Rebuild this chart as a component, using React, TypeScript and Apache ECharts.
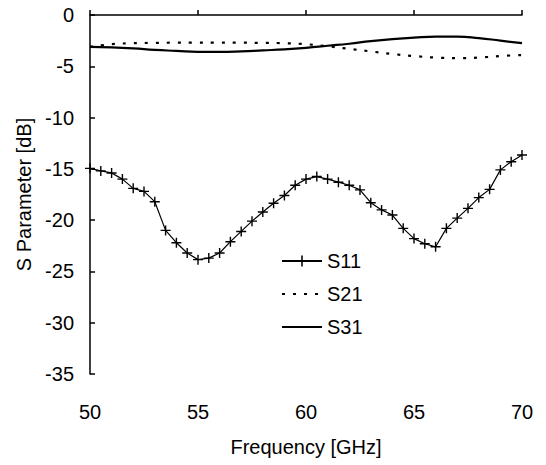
import React, { useEffect, useRef } from "react";
import * as echarts from "echarts";

const freqS11 = [
  50, 50.5, 51, 51.5, 52, 52.5, 53, 53.5, 54, 54.5, 55, 55.5, 56, 56.5, 57, 57.5,
  58, 58.5, 59, 59.5, 60, 60.5, 61, 61.5, 62, 62.5, 63, 63.5, 64, 64.5, 65, 65.5,
  66, 66.5, 67, 67.5, 68, 68.5, 69, 69.5, 70,
];
const s11 = [
  -14.95, -15.2, -15.4, -16.0, -16.9, -17.2, -18.2, -21.0, -22.2, -23.2, -23.85,
  -23.7, -23.2, -22.1, -21.1, -20.1, -19.2, -18.35, -17.6, -16.6, -16.0, -15.75,
  -16.0, -16.3, -16.6, -17.05, -18.3, -19.0, -19.5, -20.8, -21.8, -22.3, -22.6,
  -20.8, -19.8, -18.85, -17.8, -17.0, -15.1, -14.3, -13.65,
];
const freqS = [50, 51, 52, 53, 54, 55, 56, 57, 58, 59, 60, 61, 62, 63, 64, 65, 66, 67, 68, 69, 70];
const s21 = [
  -3.1, -2.85, -2.75, -2.72, -2.7, -2.7, -2.7, -2.7, -2.72, -2.75, -2.85, -3.05,
  -3.3, -3.55, -3.8, -4.0, -4.15, -4.2, -4.15, -4.0, -3.9,
];
const s31 = [
  -3.1, -3.15, -3.25, -3.4, -3.5, -3.6, -3.6, -3.55, -3.45, -3.35, -3.2, -3.0,
  -2.8, -2.55, -2.35, -2.2, -2.1, -2.1, -2.25, -2.5, -2.75,
];
const xTicks = { min: 50, max: 70, interval: 5 };
const yTicks = { min: -35, max: 0, interval: 5 };

const plusPath =
  "path://M0.43,0 L0.57,0 L0.57,0.43 L1,0.43 L1,0.57 L0.57,0.57 L0.57,1 L0.43,1 L0.43,0.57 L0,0.57 L0,0.43 L0.43,0.43 Z";

export default function App() {
  const ref = useRef<HTMLDivElement>(null);
  useEffect(() => {
    if (!ref.current) return;
    const chart = echarts.init(ref.current, null, { renderer: "svg" });
    const font = "Liberation Sans, Arial, sans-serif";
    chart.setOption({
      animation: false,
      backgroundColor: "#fff",
      textStyle: { fontFamily: font, color: "#000" },
      grid: { left: 90, right: 24, top: 15, bottom: 91 },
      legend: {
        orient: "vertical",
        left: 276,
        top: 246,
        itemWidth: 40,
        itemHeight: 14,
        itemGap: 13,
        textStyle: { fontSize: 20, fontFamily: font, color: "#000", lineHeight: 20 },
        data: [
          { name: "S11" },
          { name: "S21", itemStyle: { opacity: 0 } },
          { name: "S31", itemStyle: { opacity: 0 } },
        ],
      },
      xAxis: {
        type: "value",
        min: xTicks.min,
        max: xTicks.max,
        interval: xTicks.interval,
        name: "Frequency [GHz]",
        nameLocation: "middle",
        nameGap: 63,
        nameTextStyle: { fontSize: 20, fontFamily: font, color: "#000" },
        axisLine: { lineStyle: { color: "#000", width: 1.5 } },
        axisTick: { inside: true, length: 5, lineStyle: { color: "#000", width: 1.5 } },
        axisLabel: { fontSize: 20, color: "#000", margin: 28, fontFamily: font },
        splitLine: { show: false },
      },
      yAxis: {
        type: "value",
        min: yTicks.min,
        max: yTicks.max,
        interval: yTicks.interval,
        name: "S Parameter [dB]",
        nameLocation: "middle",
        nameGap: 52,
        nameTextStyle: { fontSize: 20, fontFamily: font, color: "#000" },
        axisLine: { show: true, lineStyle: { color: "#000", width: 1.5 } },
        axisTick: { show: true, inside: true, length: 5, lineStyle: { color: "#000", width: 1.5 } },
        axisLabel: { fontSize: 20, color: "#000", margin: 16, fontFamily: font },
        splitLine: { show: false },
      },
      series: [
        {
          name: "S11",
          type: "line",
          data: freqS11.map((f, i) => [f, s11[i]]),
          symbol: plusPath,
          symbolSize: 10,
          showSymbol: true,
          itemStyle: { color: "#000" },
          lineStyle: { color: "#000", width: 1.2 },
        },
        {
          name: "S21",
          type: "line",
          smooth: true,
          data: freqS.map((f, i) => [f, s21[i]]),
          symbol: "none",
          itemStyle: { color: "#000" },
          lineStyle: { color: "#000", width: 2.2, type: [3, 8] },
        },
        {
          name: "S31",
          type: "line",
          smooth: true,
          data: freqS.map((f, i) => [f, s31[i]]),
          symbol: "none",
          itemStyle: { color: "#000" },
          lineStyle: { color: "#000", width: 2.2 },
        },
      ],
    });
    return () => chart.dispose();
  }, []);
  return <div ref={ref} style={{ width: 546, height: 465, position: "absolute", left: 0, top: 0 }} />;
}
